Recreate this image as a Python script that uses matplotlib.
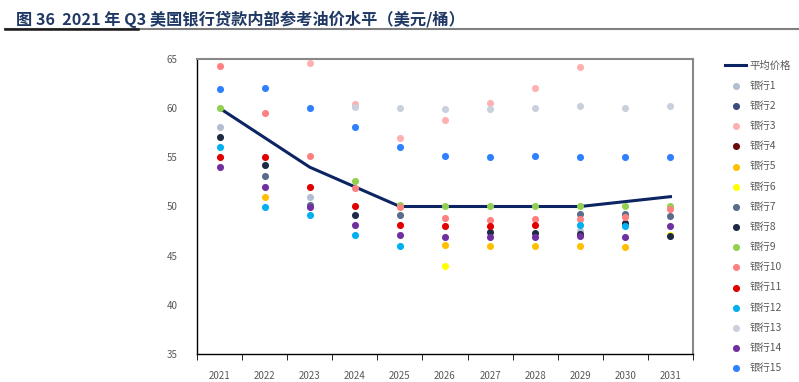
import numpy as np
import matplotlib
matplotlib.use('Agg')
import matplotlib.pyplot as plt

plt.rcParams['font.family'] = ['Noto Sans CJK SC', 'DejaVu Sans']

nan = np.nan
years = ['2021', '2022', '2023', '2024', '2025', '2026', '2027', '2028', '2029', '2030', '2031']
avg_price = [60, 57, 54, 52, 50, 50, 50, 50, 50, 50.5, 51]

bank1 = [58.1, nan, 51.0, nan, nan, nan, nan, nan, 47.5, nan, nan]
bank2 = [nan] * 11
bank3 = [nan, nan, 64.6, 60.4, 57.0, 58.8, 60.5, 62.1, 64.2, nan, nan]
bank4 = [nan] * 11
bank5 = [nan, 51.0, nan, nan, nan, 46.1, 46.0, 46.0, 46.0, 45.9, nan]
bank6 = [nan, nan, nan, nan, nan, 44.0, nan, nan, nan, nan, 47.1]
bank7 = [nan, 53.1, 50.15, nan, 49.1, nan, nan, nan, 49.2, 49.2, 49.05]
bank8 = [57.1, 54.2, nan, 49.1, nan, nan, 47.4, 47.3, 47.2, 48.3, 47.0]
bank9 = [60.0, nan, nan, 52.6, 50.2, 50.1, 50.1, 50.05, 50.1, 50.1, 50.1]
bank10 = [64.3, 59.5, 55.1, 51.85, 49.9, 48.85, 48.6, 48.7, 48.7, 48.9, 49.7]
bank11 = [55.0, 55.0, 52.0, 50.1, 48.15, 48.0, 48.0, 48.1, nan, nan, nan]
bank12 = [56.1, 49.95, 49.1, 47.1, 46.0, nan, nan, nan, 48.1, 48.0, nan]
bank13 = [nan, nan, nan, 60.1, 60.0, 59.9, 59.9, 60.0, 60.2, 60.05, 60.2]
bank14 = [54.0, 52.0, 49.9, 48.15, 47.1, 46.9, 46.9, 46.9, 46.95, 46.9, 48.05]
bank15 = [62.0, 62.1, 60.05, 58.1, 56.1, 55.1, 55.05, 55.1, 55.0, 55.0, 55.0]

banks = [bank1, bank2, bank3, bank4, bank5, bank6, bank7, bank8,
         bank9, bank10, bank11, bank12, bank13, bank14, bank15]
colors = ['#b4bed2', '#3b4c7c', '#ffb0b0', '#6b0a0a', '#ffc000', '#ffff00',
          '#5b6b8b', '#1f2a44', '#92d050', '#ff8080', '#e00000', '#00b0f0',
          '#c8d0dc', '#7030a0', '#2f80ff']

fig = plt.figure(figsize=(7.99, 3.82), dpi=100)
ax = fig.add_axes([197/799, 1-354/382, (693-197)/799, (354-59)/382])
x = np.arange(len(years))

line, = ax.plot(x, avg_price, color='#0d2463', lw=2.2, zorder=2)
handles = [line]
labels = ['平均价格']
for i in range(15):
    sc = ax.scatter(x, banks[i], s=26, color=colors[i], lw=0, zorder=3)
    handles.append(sc)
    labels.append(f'银行{i+1}')

ax.set_xlim(-0.5, 10.5)
ax.set_ylim(35, 65)
ax.set_yticks(range(35, 66, 5))
ax.set_xticks(x)
ax.set_xticklabels(years)
ax.set_xticks(np.arange(-0.5, 11, 1), minor=True)
ax.tick_params(axis='x', which='major', length=0, labelsize=7, colors='#595959', pad=12)
ax.tick_params(axis='x', which='minor', length=4, direction='out', color='black')
ax.tick_params(axis='y', length=0, labelsize=7, colors='#595959', pad=14)
for s in ['left', 'bottom']:
    ax.spines[s].set_color('black')
    ax.spines[s].set_linewidth(1.0)
for s in ['top', 'right']:
    ax.spines[s].set_color('#888888')
    ax.spines[s].set_linewidth(1.5)

fig.legend(handles, labels, loc='upper left', bbox_to_anchor=(716/799, 1-51/382),
           frameon=False, fontsize=7.5, labelspacing=0.975, handlelength=2.0,
           handletextpad=0.3, labelcolor='#595959')

fig.text(16/799, 1-19/382, '图 36  2021 年 Q3 美国银行贷款内部参考油价水平（美元/桶）',
         fontsize=11.7, fontweight='bold', va='center', ha='left', color='#1f3864')
fig.add_artist(plt.Line2D([5/799, 1.0], [1-29/382, 1-29/382], color='#7f7f7f', lw=1.5))
fig.add_artist(plt.Line2D([5/799, 138/799], [1-29/382, 1-29/382], color='#1a1a1a', lw=1.8))

fig.savefig('out.png', dpi=100)
